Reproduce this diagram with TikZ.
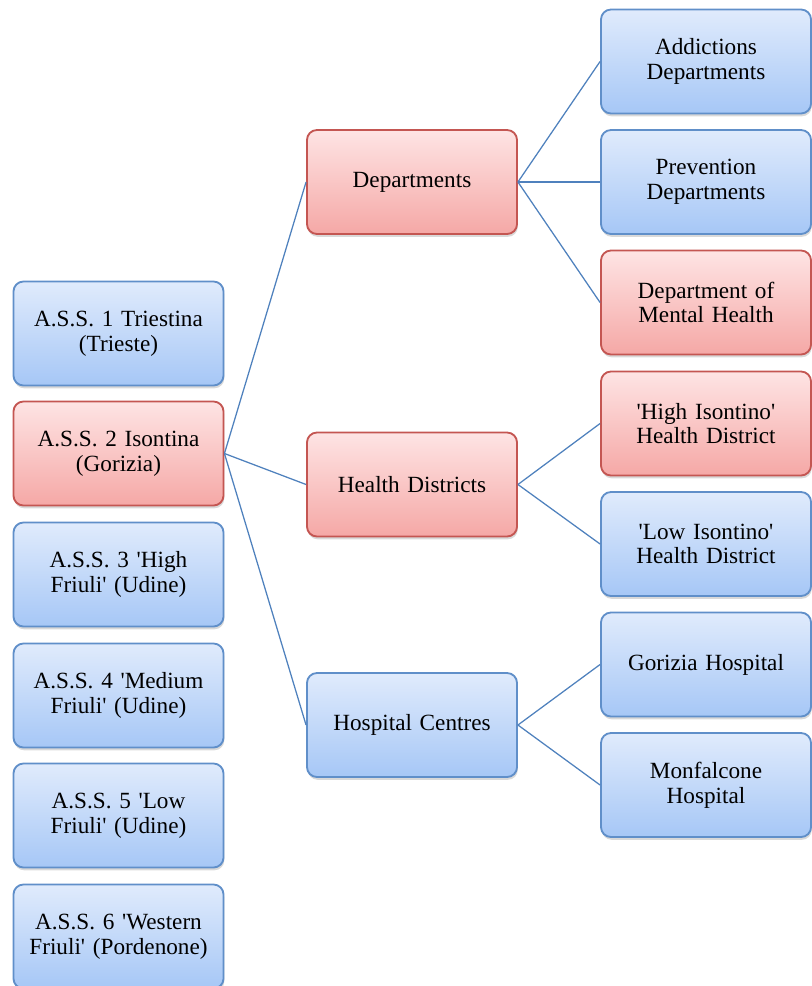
\documentclass[tikz,border=0pt]{standalone}
\usepackage{fontspec}
\setmainfont{Liberation Serif}
\usepackage{tikz}
\usetikzlibrary{shadows}

\definecolor{bluetop}{RGB}{224,235,252}
\definecolor{bluebot}{RGB}{166,199,246}
\definecolor{blueline}{RGB}{96,143,201}
\definecolor{redtop}{RGB}{254,228,228}
\definecolor{redbot}{RGB}{245,168,166}
\definecolor{redline}{RGB}{196,86,82}
\definecolor{linkcol}{RGB}{79,129,189}

\newcommand{\q}{\textquotesingle}

\tikzset{
    unit/.style={rectangle, rounded corners=0.25cm, line width=1.3pt,
        minimum width=5.25cm, minimum height=2.6cm, inner sep=0pt,
        text width=5.1cm, align=center, font=\fontsize{16.5}{17.5}\selectfont,
        drop shadow={opacity=0.3, shadow xshift=0.02cm, shadow yshift=-0.07cm}},
    bluebox/.style={unit, draw=blueline, top color=bluetop, bottom color=bluebot},
    redbox/.style={unit, draw=redline, top color=redtop, bottom color=redbot},
    link/.style={draw=linkcol, line width=0.9pt}
}

\begin{document}
\begin{tikzpicture}[x=0.025cm, y=-0.025cm]
    \useasboundingbox (0,0) rectangle (811,986);
    % health authorities
    \node[bluebox] (ass1) at (118.5,333.5) {A.S.S. 1 Triestina\\(Trieste)};
    \node[redbox]  (ass2) at (118.5,453.5) {A.S.S. 2 Isontina\\(Gorizia)};
    \node[bluebox] (ass3) at (118.5,574.5) {A.S.S. 3 \q High\\Friuli\q{} (Udine)};
    \node[bluebox] (ass4) at (118.5,695.5) {A.S.S. 4 \q Medium\\Friuli\q{} (Udine)};
    \node[bluebox] (ass5) at (118.5,815.5) {A.S.S. 5 \q Low\\Friuli\q{} (Udine)};
    \node[bluebox] (ass6) at (118.5,936.5) {A.S.S. 6 \q Western\\Friuli\q{} (Pordenone)};
    % structures of A.S.S. 2
    \node[redbox]  (dep) at (412,182) {Departments};
    \node[redbox]  (hd)  at (412,484.5) {Health Districts};
    \node[bluebox] (hc)  at (412,725) {Hospital Centres};
    % units
    \node[bluebox] (add)  at (706,61.5) {Addictions\\Departments};
    \node[bluebox] (prev) at (706,182) {Prevention\\Departments};
    \node[redbox]  (ment) at (706,302.5) {Department of\\Mental Health};
    \node[redbox]  (high) at (706,423.5) {\q High Isontino\q\\Health District};
    \node[bluebox] (low)  at (706,544) {\q Low Isontino\q\\Health District};
    \node[bluebox] (gor)  at (706,664.5) {Gorizia Hospital};
    \node[bluebox] (mon)  at (706,785) {Monfalcone\\Hospital};
    \draw[link] (ass2.east) -- (dep.west);
    \draw[link] (ass2.east) -- (hd.west);
    \draw[link] (ass2.east) -- (hc.west);
    \draw[link] (dep.east) -- (add.west);
    \draw[link] (dep.east) -- (prev.west);
    \draw[link] (dep.east) -- (ment.west);
    \draw[link] (hd.east) -- (high.west);
    \draw[link] (hd.east) -- (low.west);
    \draw[link] (hc.east) -- (gor.west);
    \draw[link] (hc.east) -- (mon.west);
\end{tikzpicture}
\end{document}
